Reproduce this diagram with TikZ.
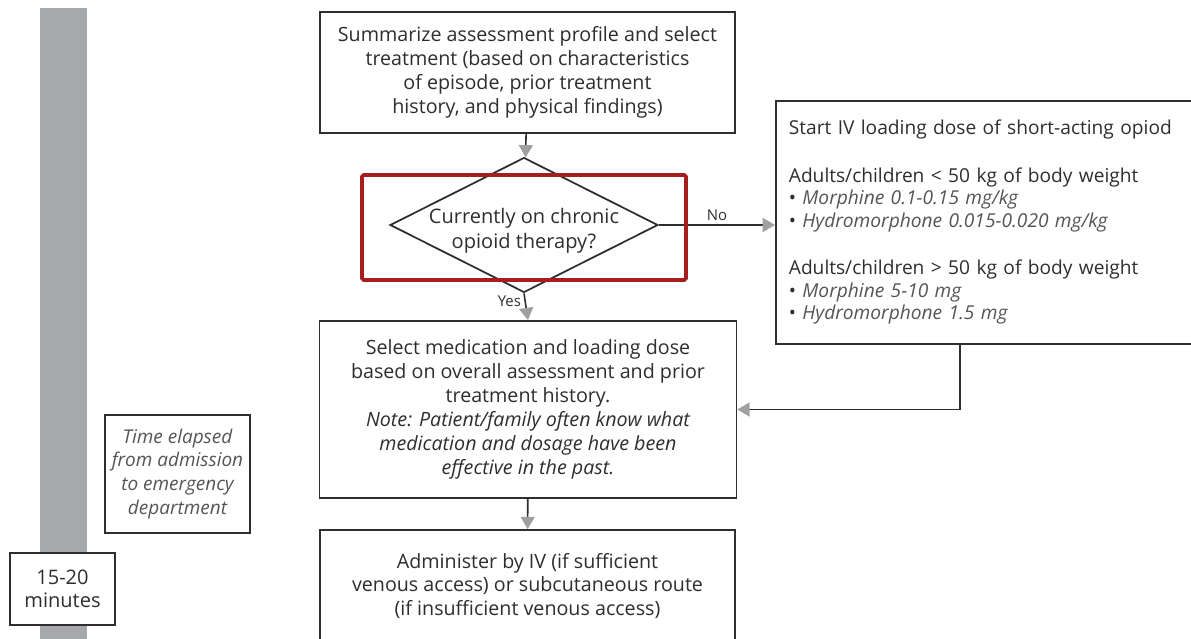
\documentclass[tikz,border=0pt]{standalone}
\usepackage{fontspec}
\setmainfont{Open Sans}
\usetikzlibrary{arrows.meta,shapes.geometric,positioning}
\definecolor{inkgray}{HTML}{2E2E2E}
\definecolor{tipgray}{HTML}{A0A0A0}
\definecolor{bargray}{HTML}{A7A8AB}
\definecolor{itgray}{HTML}{555555}
\definecolor{markred}{HTML}{A51D1D}
\tikzset{
  box/.style={draw=inkgray,line width=1pt,fill=white,align=center,text=inkgray,
    inner sep=0pt,font=\fontsize{11.2}{13.6}\selectfont},
  flow/.style={draw=inkgray,line width=0.9pt,-{Triangle[length=7pt,width=8pt,color=tipgray]}},
  lbl/.style={font=\fontsize{8.5}{9}\selectfont,text=inkgray,inner sep=2pt}
}

\begin{document}
\begin{tikzpicture}[x=0.02cm,y=-0.02cm]
\useasboundingbox (0,0) rectangle (1191,639);
\clip (0,0) rectangle (1191,639);
% time line
\fill[bargray] (40,8) rectangle (87,645);
\node[box,minimum width=2.1cm,minimum height=1.44cm,font=\fontsize{11.4}{13.2}\selectfont] (mins) at (62.5,589) {15-20\\minutes};
\node[box,minimum width=2.9cm,minimum height=2.36cm,text=itgray,font=\fontsize{10.8}{13.6}\selectfont\itshape] (elap) at (177.5,474)
  {Time elapsed\\from admission\\to emergency\\department};
% flow
\node[box,minimum width=8.3cm,minimum height=2.42cm] (summ) at (527.5,72.5)
  {Summarize assessment profile and select\\treatment (based on characteristics\\of episode, prior treatment\\history, and physical findings)};
\node[box,diamond,aspect=2,minimum width=5.36cm,minimum height=2.7cm,inner xsep=-0.45cm,
  font=\fontsize{11.4}{14.2}\selectfont] (chron) at (524,225)
  {\rule{0pt}{15pt}Currently on chronic\\opioid therapy?};
\node[box,anchor=north west,minimum width=8.7cm,minimum height=4.86cm,inner xsep=0.26cm,
  text width=8.18cm,align=left,font=\fontsize{10.9}{12.9}\selectfont] (load) at (775,100)
  {Start IV loading dose of short-acting opiod\\[14pt]
   Adults/children < 50 kg of body weight\\
   \textbullet\ {\color{itgray}\itshape Morphine 0.1-0.15 mg/kg}\\
   \textbullet\ {\color{itgray}\itshape Hydromorphone 0.015-0.020 mg/kg}\\[14pt]
   Adults/children > 50 kg of body weight\\
   \textbullet\ {\color{itgray}\itshape Morphine 5-10 mg}\\
   \textbullet\ {\color{itgray}\itshape Hydromorphone 1.5 mg}};
\node[box,minimum width=8.34cm,minimum height=3.54cm] (sel) at (528,409.5)
  {Select medication and loading dose\\based on overall assessment and prior\\treatment history.\\
   \itshape Note: Patient/family often know what\\\itshape medication and dosage have been\\\itshape effective in the past.};
\node[box,minimum width=8.3cm,minimum height=2.24cm] (adm) at (527.5,586)
  {Administer by IV (if sufficient\\venous access) or subcutaneous route\\(if insufficient venous access)};
\coordinate (turn) at (960,0);
\draw[flow] (summ) -- (chron);
\draw[flow] (chron.east) -- (chron.east -| load.west) node[lbl,midway,above] {No};
\draw[flow] (chron.south) -- (sel.north) node[lbl,pos=0.3,left] {Yes};
\draw[flow] (load.south -| turn) |- (sel.east);
\draw[flow] (sel) -- (adm);
% highlight
\draw[markred,line width=2.2pt,rounded corners=1pt] (362,175) rectangle (686,280);
\end{tikzpicture}
\end{document}
